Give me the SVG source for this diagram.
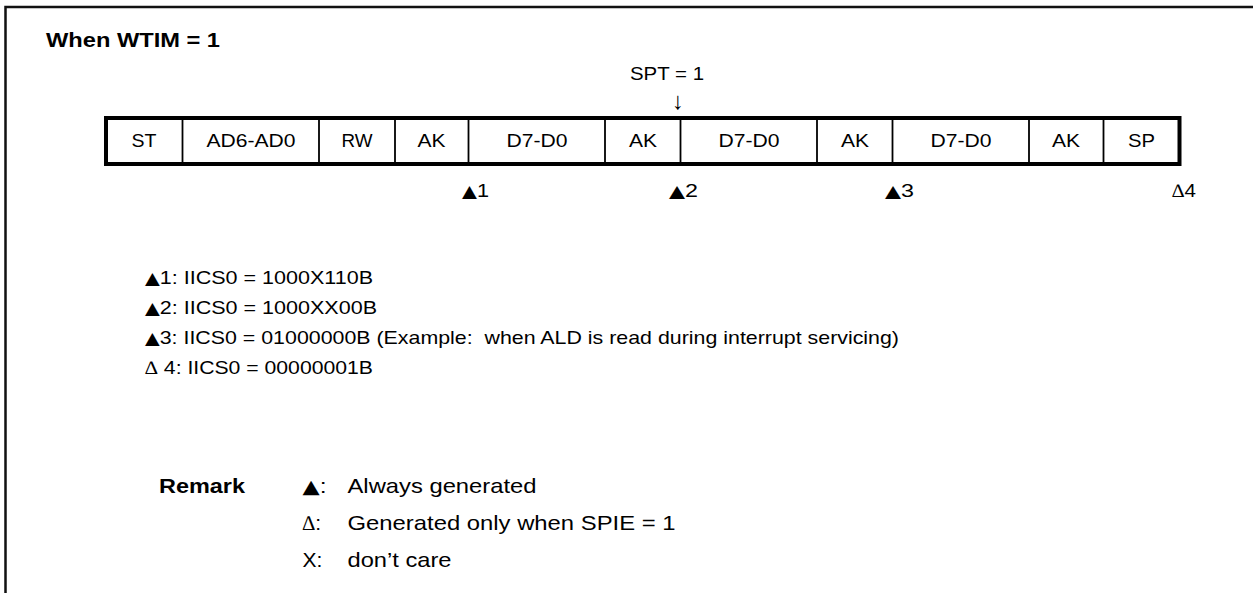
<svg xmlns="http://www.w3.org/2000/svg" width="1253" height="593" viewBox="0 0 1253 593">
<style>
  .t { font-family: "Liberation Sans", Arial, sans-serif; font-size: 19px; fill: #000; }
  .b { font-family: "Liberation Sans", Arial, sans-serif; font-size: 21px; font-weight: bold; fill: #000; }
  .r { font-family: "Liberation Sans", Arial, sans-serif; font-size: 21px; fill: #000; }
  .c { text-anchor: middle; }
  .sym { font-family: "Liberation Serif", "Times New Roman", serif; }
  .tri { font-family: "DejaVu Sans", sans-serif; font-size: 17px; }
  .arr { font-family: "Liberation Serif", serif; font-size: 24px; }
  .frame { fill: none; stroke: #111; stroke-width: 2.5; }
  .box { fill: #fff; stroke: #000; stroke-width: 4; }
  .div { stroke: #000; stroke-width: 1.8; }
</style>
<rect width="1253" height="593" fill="#fff"/>
<path class="frame" d="M5.5 593 V7 H1253"/>

<g id="title"><text class="b" x="46" y="47" textLength="174" lengthAdjust="spacingAndGlyphs">When WTIM = 1</text></g>
<g id="spt"><text class="t" x="630" y="80" textLength="74" lengthAdjust="spacingAndGlyphs">SPT = 1</text></g>

<g id="connectors">
  <text class="t c arr" x="678" y="109">↓</text>
</g>

<g id="frame-box">
  <rect class="box" x="106" y="118" width="1073.5" height="46"/>
  <line class="div" x1="182.5" y1="118" x2="182.5" y2="164"/>
  <line class="div" x1="319" y1="118" x2="319" y2="164"/>
  <line class="div" x1="395" y1="118" x2="395" y2="164"/>
  <line class="div" x1="468.5" y1="118" x2="468.5" y2="164"/>
  <line class="div" x1="605" y1="118" x2="605" y2="164"/>
  <line class="div" x1="680.5" y1="118" x2="680.5" y2="164"/>
  <line class="div" x1="817" y1="118" x2="817" y2="164"/>
  <line class="div" x1="892.5" y1="118" x2="892.5" y2="164"/>
  <line class="div" x1="1029" y1="118" x2="1029" y2="164"/>
  <line class="div" x1="1103.5" y1="118" x2="1103.5" y2="164"/>
</g>
<g id="cell-st"><text class="t c" x="144" y="147" textLength="25" lengthAdjust="spacingAndGlyphs">ST</text></g>
<g id="cell-ad"><text class="t c" x="251" y="147" textLength="89" lengthAdjust="spacingAndGlyphs">AD6-AD0</text></g>
<g id="cell-rw"><text class="t c" x="357" y="147" textLength="31" lengthAdjust="spacingAndGlyphs">RW</text></g>
<g id="cell-ak1"><text class="t c" x="431.5" y="147" textLength="28" lengthAdjust="spacingAndGlyphs">AK</text></g>
<g id="cell-d1"><text class="t c" x="537" y="147" textLength="61" lengthAdjust="spacingAndGlyphs">D7-D0</text></g>
<g id="cell-ak2"><text class="t c" x="643" y="147" textLength="28" lengthAdjust="spacingAndGlyphs">AK</text></g>
<g id="cell-d2"><text class="t c" x="749" y="147" textLength="61" lengthAdjust="spacingAndGlyphs">D7-D0</text></g>
<g id="cell-ak3"><text class="t c" x="855" y="147" textLength="28" lengthAdjust="spacingAndGlyphs">AK</text></g>
<g id="cell-d3"><text class="t c" x="961" y="147" textLength="61" lengthAdjust="spacingAndGlyphs">D7-D0</text></g>
<g id="cell-ak4"><text class="t c" x="1066" y="147" textLength="28" lengthAdjust="spacingAndGlyphs">AK</text></g>
<g id="cell-sp"><text class="t c" x="1141.5" y="147" textLength="27" lengthAdjust="spacingAndGlyphs">SP</text></g>

<g id="mark1"><text class="t" x="462" y="197" textLength="27" lengthAdjust="spacingAndGlyphs"><tspan class="tri">▲</tspan>1</text></g>
<g id="mark2"><text class="t" x="669" y="197" textLength="29" lengthAdjust="spacingAndGlyphs"><tspan class="tri">▲</tspan>2</text></g>
<g id="mark3"><text class="t" x="885" y="197" textLength="29" lengthAdjust="spacingAndGlyphs"><tspan class="tri">▲</tspan>3</text></g>
<g id="mark4"><text class="t" x="1172" y="197" textLength="24" lengthAdjust="spacingAndGlyphs"><tspan class="sym">∆</tspan>4</text></g>

<g id="legend1"><text class="t" x="145" y="284" textLength="228" lengthAdjust="spacingAndGlyphs"><tspan class="tri">▲</tspan>1: IICS0 = 1000X110B</text></g>
<g id="legend2"><text class="t" x="145" y="314" textLength="232" lengthAdjust="spacingAndGlyphs"><tspan class="tri">▲</tspan>2: IICS0 = 1000XX00B</text></g>
<g id="legend3"><text class="t" x="145" y="344" textLength="754" lengthAdjust="spacingAndGlyphs" xml:space="preserve"><tspan class="tri">▲</tspan>3: IICS0 = 01000000B (Example:  when ALD is read during interrupt servicing)</text></g>
<g id="legend4"><text class="t" x="145" y="374" textLength="228" lengthAdjust="spacingAndGlyphs"><tspan class="sym">∆</tspan> 4: IICS0 = 00000001B</text></g>

<g id="remark">
  <text class="b" x="159" y="493" textLength="86" lengthAdjust="spacingAndGlyphs">Remark</text>
  <text class="r" x="302.5" y="493" textLength="24" lengthAdjust="spacingAndGlyphs"><tspan class="tri" style="font-size:19px">▲</tspan>:</text>
  <text class="r" x="347.5" y="493" textLength="189" lengthAdjust="spacingAndGlyphs">Always generated</text>
  <text class="r" x="302.5" y="530"><tspan class="sym">∆</tspan>:</text>
  <text class="r" x="347.5" y="530" textLength="328" lengthAdjust="spacingAndGlyphs">Generated only when SPIE = 1</text>
  <text class="r" x="302.5" y="567">X:</text>
  <text class="r" x="347.5" y="567" textLength="104" lengthAdjust="spacingAndGlyphs">don’t care</text>
</g>
</svg>
